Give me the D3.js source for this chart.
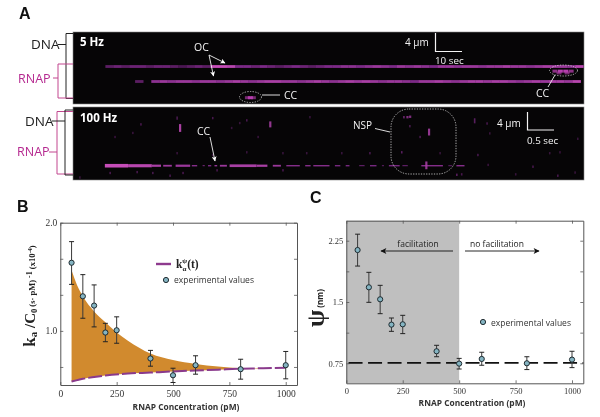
<!DOCTYPE html>
<html><head><meta charset="utf-8">
<style>html,body{margin:0;padding:0;background:#fff}svg{display:block}text{font-family:"Open Sans",sans-serif}</style>
<script src="https://cdn.jsdelivr.net/npm/d3@7/dist/d3.min.js"></script></head>
<body><svg id="c" width="600" height="417"></svg>
<script>
// ---- data: experimental points (shared concentrations, pM)
const concentrations=[50,100,150,200,250,400,500,600,800,1000];
const kaValues=[1.63,1.32,1.234,0.985,1.006,0.745,0.59,0.683,0.646,0.683];
const kaHigh=[1.825,1.52,1.425,1.07,1.13,0.82,0.655,0.77,0.738,0.81];
const kaLow=[1.43,1.117,1.037,0.90,0.886,0.674,0.523,0.60,0.554,0.557];
const psiValues=[2.136,1.68,1.533,1.223,1.227,0.897,0.746,0.803,0.75,0.795];
const psiHigh=[2.33,1.863,1.704,1.304,1.337,0.97,0.81,0.885,0.83,0.897];
const psiLow=[1.94,1.496,1.357,1.141,1.113,0.83,0.68,0.726,0.673,0.697];
// ---- data: curves in panel B
const upperX=[50,75,100,150,200,250,300,350,400,500,600,700,800,900];
const upperY=[1.56,1.42,1.32,1.18,1.08,0.985,0.91,0.845,0.79,0.73,0.695,0.67,0.655,0.648];
const lowerX=[50,75,100,150,200,300,400,500,600,700,800,900,1000];
const lowerY=[0.532,0.545,0.557,0.574,0.588,0.606,0.615,0.625,0.634,0.642,0.65,0.655,0.66];
const psiBaseline=[0.754,0.754];
// ---- data: kymograph tracks, intensities per time bin (3 s bins, 5 Hz panel)
const track1Start=12, track1Pos=7.67;
const track1=[2,3,2,3,3,2,3,3,2,1,2,3,2,9,9,8,4,4,3,4,3,2,3,4,3,2,3,4,4,5,5,4,5,6,5,4,6,5,6,5,4,6,6,5,6,6,5,6,6,7,6,6,5,6,7,6,6,5,8];
const track2Start=23, track2Pos=11;
const track2=[2,0,5,6,5,6,6,5,6,6,5,6,7,6,5,6,7,7,6,6,5,6,7,6,5,6,7,6,7,6,5,6,6,5,4,6,6,7,6,5,6,7,7,6,7,7,6,5,6,7,6,7,7,6,8];
const spots5=[[65.7,14.6,1.6],[64.6,14.6,1],[66.8,14.6,1],[178.5,8.7,1.2],[180.5,8.7,1.6],[182.5,8.7,1.6],[184.5,8.7,1.2],[180,9.1,1],[183,9.1,1]];
// 100 Hz panel: burst segments [start s, end s, width um, strength]
const track3Pos=13.05;
const track3=[[0.59,1.02,0.8,9],[1.02,1.46,0.7,8],[1.46,1.63,0.5,7],[1.67,1.83,0.4,6],[1.9,2.17,0.5,6],[2.2,2.3,0.3,5],[2.4,2.44,0.2,5],[2.5,2.56,0.3,4],[2.62,2.67,0.3,6],[2.72,2.85,0.4,6],[2.9,3.4,0.6,7],[3.4,3.6,0.5,7],[3.7,3.85,0.4,6],[3.95,4.2,0.3,5],[4.3,4.4,0.3,5],[4.45,4.75,0.3,5],[4.85,4.95,0.3,4],[5.05,5.12,0.3,4],[5.3,5.4,0.2,4],[5.5,5.62,0.3,4],[5.72,5.76,0.2,3],[5.85,6.05,0.3,4],[6.1,6.2,0.2,4],[6.45,6.85,0.3,5],[6.95,7.02,0.2,3],[7.1,7.25,0.3,5]];
// 100 Hz panel: isolated spots [time s, position um, height um, strength]
const spots100=[[1.98,4.6,1.6,8],[1.93,2.4,0.6,3],[1.26,3.8,0.4,3],[2.59,2.4,0.4,3],[3.22,2.9,0.4,3],[3.09,3.5,0.4,2],[2.94,4.6,0.4,2],[3.65,3.8,1.2,7],[3.43,6.6,0.4,2],[4.39,2.2,0.4,2],[0.78,6.6,0.4,2],[1.11,5.7,0.4,2],[1.93,10.2,0.4,2],[2.59,10.6,0.4,2],[3.22,10,0.4,2],[3.89,10.2,0.4,2],[4.33,10.2,0.4,2],[0.69,14.6,0.4,3],[1.19,14.4,0.4,3],[1.48,14.6,0.4,3],[1.8,15.2,0.4,3],[2.04,14.6,0.4,3],[2.67,14,0.4,3],[3.89,14,0.4,3],[0.13,15.6,0.4,2],
[6.19,2.2,0.4,6],[6.24,2.1,0.4,6],[6.13,2.2,0.4,5],[6.24,4.2,0.4,3],[6.59,5.5,1.4,7],[6.43,6.6,0.4,3],[6.09,10,0.4,4],[6.54,12.9,1.6,7],[5.5,10.2,0.4,3],[4.98,10.2,0.4,2],[6.8,10.2,0.4,2],[7.44,3,1.0,4],[7.67,3.6,0.4,3],[7.72,5.8,0.4,2],[7.5,10.6,0.4,3],[7.11,15,0.4,4],[7.2,14.9,0.4,3],[8.98,15.2,0.4,3],[8.83,10.2,0.4,2],[9.02,10,0.4,2],[8.52,13.2,0.4,3],[7.69,12.8,0.4,2],[9.3,14.5,0.4,2],[9.35,7,0.4,2],[8.2,14.9,0.4,2]];
// ---- tick labels and text
const xTicks=[0,250,500,750,1000];
const kaTicks=[2,5/3,4/3,1,2/3], kaLabels=[2,1];
const psiTicks=[2.25,1.875,1.5,1.125,0.75], psiLabels=[2.25,1.5,0.75];
const xTitle="RNAP Concentration (pM)";
const legendText="experimental values";

const svg=d3.select("#c");
const PANELINK="#b5288f", BRK="#c2478f";
const defs=svg.append("defs");
defs.append("filter").attr("id","soft").append("feGaussianBlur").attr("stdDeviation",0.6);
defs.append("filter").attr("id","soft2").append("feGaussianBlur").attr("stdDeviation",0.45);
[["wh","#fff"],["bk","#111"]].forEach(([id,c])=>{
  defs.append("marker").attr("id",id).attr("viewBox","0 0 10 10").attr("refX",9).attr("refY",5)
   .attr("markerWidth",id=="wh"?7:9).attr("markerHeight",id=="wh"?5:6).attr("markerUnits","userSpaceOnUse").attr("orient","auto")
   .append("path").attr("d","M0,0L10,5L0,10L2.5,5Z").attr("fill",c);
});
function txt(g,x,y,s,o={}){const t=g.append("text").attr("x",x).attr("y",y).text(s)
  .attr("font-size",o.size||10).attr("fill",o.fill||"#222").attr("font-weight",o.weight||400);
  if(o.anchor)t.attr("text-anchor",o.anchor); if(o.family)t.style("font-family",o.family); return t;}
function ln(g,a,b,c,d,col,w,m){const l=g.append("line").attr("x1",a).attr("y1",b).attr("x2",c).attr("y2",d).attr("stroke",col).attr("stroke-width",w||1);if(m)l.attr("marker-end",`url(#${m})`);return l;}

// ---- Panel A kymographs
const pX=73,pW=511;
const t5=d3.scaleLinear().domain([0,pW/2.7]).range([pX,pX+pW]);
const t100=d3.scaleLinear().domain([0,pW/54]).range([pX,pX+pW]);
const pos1=d3.scaleLinear().domain([0,16]).range([32,104]);
const pos2=d3.scaleLinear().domain([0,16]).range([107,179]);
const inkScale=d3.scaleLinear().domain([0,4,9]).range(["#3a1240","#7c2a86","#c64db8"]);

svg.append("rect").attr("x",pX).attr("y",32).attr("width",pW).attr("height",72).attr("fill","#060506").attr("stroke","#888").attr("stroke-width",0.6);
svg.append("rect").attr("x",pX).attr("y",107).attr("width",pW).attr("height",73).attr("fill","#060506").attr("stroke","#888").attr("stroke-width",0.6);
const gK=svg.append("g").attr("filter","url(#soft)");
[[track1,track1Start,track1Pos],[track2,track2Start,track2Pos]].forEach(([tr,s,p])=>{
  gK.selectAll(null).data(tr).join("rect")
    .attr("x",(d,i)=>t5(s+i*3)).attr("width",t5(3)-t5(0)+0.3)
    .attr("y",pos1(p)-1.4).attr("height",2.8)
    .attr("fill",d=>inkScale(d)).attr("opacity",d=>d>0?1:0);
});
gK.selectAll(null).data(spots5).join("rect")
  .attr("x",d=>t5(d[0])-2.5).attr("y",d=>pos1(d[1])-1.5).attr("width",5).attr("height",3)
  .attr("fill","#b53fae").attr("opacity",d=>Math.min(1,d[2]/1.6));
const gK2=svg.append("g").attr("filter","url(#soft2)");
gK2.selectAll(null).data(track3).join("rect")
  .attr("x",d=>t100(d[0])).attr("width",d=>t100(d[1])-t100(d[0]))
  .attr("y",d=>pos2(track3Pos-d[2]/2)).attr("height",d=>pos2(d[2])-pos2(0))
  .attr("fill",d=>inkScale(d[3]));
gK2.selectAll(null).data(spots100).join("rect")
  .attr("x",d=>t100(d[0])-0.9).attr("width",d=>d[3]>=6?2.2:1.6)
  .attr("y",d=>pos2(d[1]-d[2]/2)).attr("height",d=>pos2(d[2])-pos2(0)+0.6)
  .attr("fill",d=>inkScale(d[3])).attr("opacity",d=>0.45+0.06*d[3]);

const gA=svg.append("g");
txt(gA,19,19,"A",{size:16,weight:700,fill:"#111",family:"Liberation Sans"});
txt(gA,31,49,"DNA",{size:13.5,fill:"#222"});
txt(gA,18,83,"RNAP",{size:12.5,fill:PANELINK});
txt(gA,25,126,"DNA",{size:13.5,fill:"#222"});
txt(gA,17,156,"RNAP",{size:12.5,fill:PANELINK});
const br=(x,y1,y2,x2,sx,sy,c)=>{gA.append("path").attr("d",`M${x2},${y1}H${x}V${y2}H${x2}M${x},${sy}H${sx}`).attr("fill","none").attr("stroke",c).attr("stroke-width",1);};
br(66,33.5,98.5,73,58,44.5,"#222");
br(58,64,98,73,53,78,BRK);
br(57,111.5,174,73,49,152,BRK);
br(65,110,175,73,52,121,"#222");

txt(gA,80,46,"5 Hz",{size:11.5,weight:700,fill:"#fff"});
txt(gA,80,122,"100 Hz",{size:11.5,weight:700,fill:"#fff"});
const W="#f4f4f4";
txt(gA,194,51,"OC",{size:10.5,fill:W});
ln(gA,209,55,225,63,W,0.9,"wh"); ln(gA,209,55,213.5,76,W,0.9,"wh");
const dash="1.3 1.3";
gA.append("ellipse").attr("cx",250.5).attr("cy",97).attr("rx",11).attr("ry",5.5).attr("fill","none").attr("stroke",W).attr("stroke-width",0.7).attr("stroke-dasharray",dash);
ln(gA,262,95,280,95,W,0.9);
txt(gA,284,99,"CC",{size:10.5,fill:W});
gA.append("ellipse").attr("cx",563.5).attr("cy",70.5).attr("rx",14).attr("ry",5.5).attr("fill","none").attr("stroke",W).attr("stroke-width",0.7).attr("stroke-dasharray",dash);
ln(gA,555,75,548,87,W,0.9);
txt(gA,536,97,"CC",{size:10.5,fill:W});
txt(gA,405,46,"4 µm",{size:10,fill:W});
gA.append("path").attr("d","M435.5,33V51.5H462").attr("fill","none").attr("stroke",W).attr("stroke-width",1.2);
txt(gA,435,64,"10 sec",{size:9.8,fill:W});
txt(gA,197,135,"CC",{size:10.5,fill:W});
ln(gA,210,137,215,161,W,0.9,"wh");
txt(gA,353,129,"NSP",{size:10,fill:W});
ln(gA,375,128.5,390,132,W,0.9);
gA.append("rect").attr("x",391).attr("y",109).attr("width",65).attr("height",65).attr("rx",18).attr("fill","none").attr("stroke",W).attr("stroke-width",0.7).attr("stroke-dasharray",dash);
txt(gA,497,127,"4 µm",{size:10,fill:W});
gA.append("path").attr("d","M527.5,112V130H554").attr("fill","none").attr("stroke",W).attr("stroke-width",1.2);
txt(gA,527,144,"0.5 sec",{size:9.8,fill:W});

// ---- shared plot frame
const SERIF="'Liberation Serif',serif";
function frame(g,x,y,yAll,yLab,fmt,fs){
  const [l,r]=x.range(),[b,t]=y.range();
  const sty=a=>{a.selectAll("path").attr("stroke","#555").attr("stroke-width",1);a.selectAll("line").attr("stroke","#555").attr("stroke-width",0.8);
    a.selectAll("text").style("font-family",SERIF).attr("font-size",fs).attr("fill","#333");};
  g.append("g").attr("transform",`translate(0,${b})`).call(d3.axisBottom(x).tickValues(xTicks).tickFormat(d3.format("d")).tickSizeInner(-3).tickSizeOuter(0).tickPadding(5)).call(sty);
  g.append("g").attr("transform",`translate(0,${t})`).call(d3.axisTop(x).tickValues(xTicks).tickSizeInner(-3).tickSizeOuter(0).tickFormat("")).call(sty);
  g.append("g").attr("transform",`translate(${l},0)`).call(d3.axisLeft(y).tickValues(yAll).tickSizeInner(-3).tickSizeOuter(0).tickPadding(3)
     .tickFormat(v=>yLab.some(q=>Math.abs(q-v)<1e-6)?fmt(v):"")).call(sty);
  g.append("g").attr("transform",`translate(${r},0)`).call(d3.axisRight(y).tickValues(yAll).tickSizeInner(-3).tickSizeOuter(0).tickFormat("")).call(sty);
}
function points(g,x,y,vals,hi,lo){
  const G=g.append("g");
  concentrations.forEach((c,i)=>{
    const px=x(c);
    ln(G,px,y(hi[i]),px,y(lo[i]),"#3a3a3a",1);
    ln(G,px-2.5,y(hi[i]),px+2.5,y(hi[i]),"#222",1);
    ln(G,px-2.5,y(lo[i]),px+2.5,y(lo[i]),"#222",1);
  });
  G.selectAll("circle").data(vals).join("circle").attr("cx",(d,i)=>x(concentrations[i])).attr("cy",d=>y(d)).attr("r",2.6)
    .attr("fill","#84b4c2").attr("stroke","#1f2b30").attr("stroke-width",1);
}

// ---- Panel B
const gB=svg.append("g");
txt(gB,17,211.5,"B",{size:16,weight:700,fill:"#111",family:"Liberation Sans"});
const xB=d3.scaleLinear().domain([0,1050]).range([60.3,297]);
const yB=d3.scaleLinear().domain([0.5,2]).range([385,222.7]);
const upperFn=d3.scaleLinear().domain(upperX).range(upperY);
const lowerFn=d3.scaleLinear().domain(lowerX).range(lowerY);
const areaXs=Array.from(new Set([...upperX,...lowerX.filter(v=>v<=900)])).sort(d3.ascending);
gB.append("path").datum(areaXs).attr("fill","#d18a2e").attr("d",d3.area().x(d=>xB(d)).y0(d=>yB(lowerFn(d))).y1(d=>yB(upperFn(d))).curve(d3.curveMonotoneX));
gB.append("path").datum(lowerX.map((v,i)=>[v,lowerY[i]])).attr("fill","none").attr("stroke","#8a3a8c").attr("stroke-width",2).attr("stroke-dasharray","14 3")
  .attr("d",d3.line().x(d=>xB(d[0])).y(d=>yB(d[1])).curve(d3.curveMonotoneX));
frame(gB,xB,yB,kaTicks,kaLabels,d3.format(".1f"),9.5);
points(gB,xB,yB,kaValues,kaHigh,kaLow);
ln(gB,156,264,171,264,"#8e3a8e",2.4);
const kl=txt(gB,176,268,"k",{size:11.5,weight:700,family:SERIF,fill:"#222"});
kl.append("tspan").text("α").attr("font-size",7).attr("dy",3);
kl.append("tspan").text("ψ").attr("font-size",7).attr("dy",-8).attr("dx",-4);
kl.append("tspan").text("(t)").attr("dy",5);
gB.append("circle").attr("cx",166).attr("cy",280).attr("r",2.6).attr("fill","#84b4c2").attr("stroke","#1f2b30");
txt(gB,174,283,legendText,{size:8.5,fill:"#333"});
txt(gB,186,410,xTitle,{size:8.4,weight:700,anchor:"middle",fill:"#333"});
const yl=gB.append("text").attr("transform","translate(35,296) rotate(-90)").attr("text-anchor","middle").attr("fill","#222").attr("font-weight",700).style("font-family",SERIF);
yl.append("tspan").text("k").attr("font-size",17);
yl.append("tspan").text("a").attr("font-size",11).attr("dy",2);
yl.append("tspan").text(" /C").attr("font-size",15).attr("dy",-2);
yl.append("tspan").text("0").attr("font-size",8.5).attr("dy",1.5);
yl.append("tspan").text(" (s· pM)").attr("font-size",8.5).attr("dy",-2);
yl.append("tspan").text(" -1").attr("font-size",8).attr("dy",-3);
yl.append("tspan").text(" (x10").attr("font-size",8.5).attr("dy",3);
yl.append("tspan").text("-4").attr("font-size",6.5).attr("dy",-3);
yl.append("tspan").text(")").attr("font-size",8.5).attr("dy",3);

// ---- Panel C
const gC=svg.append("g");
txt(gC,310,203,"C",{size:16,weight:700,fill:"#111",family:"Liberation Sans"});
const xC=d3.scaleLinear().domain([0,1050]).range([346.3,583.3]);
const yC=d3.scaleLinear().domain([0.505,2.495]).range([383.3,220.7]);
gC.append("rect").attr("x",xC(0)).attr("y",yC.range()[1]).attr("width",xC(500)-xC(0)).attr("height",yC.range()[0]-yC.range()[1]).attr("fill","#bfbfbf");
frame(gC,xC,yC,psiTicks,psiLabels,v=>v==1.5?"1.5":d3.format(".2f")(v),8.5);
gC.append("line").attr("x1",xC(10)).attr("x2",xC(1050)).attr("y1",yC(psiBaseline[0])).attr("y2",yC(psiBaseline[1])).attr("stroke","#111").attr("stroke-width",1.8).attr("stroke-dasharray","14 5.5");
points(gC,xC,yC,psiValues,psiHigh,psiLow);
txt(gC,418,247,"facilitation",{size:8.5,anchor:"middle",fill:"#222"});
txt(gC,497,247,"no facilitation",{size:8.5,anchor:"middle",fill:"#222"});
ln(gC,453,251,381,251,"#111",0.9,"bk");
ln(gC,465,251,539,251,"#111",0.9,"bk");
gC.append("circle").attr("cx",483).attr("cy",322).attr("r",2.6).attr("fill","#84b4c2").attr("stroke","#1f2b30");
txt(gC,491,325.5,legendText,{size:8.5,fill:"#333"});
txt(gC,472,406,xTitle,{size:8.4,weight:700,anchor:"middle",fill:"#333"});
const yc=gC.append("text").attr("transform","translate(324,308) rotate(-90)").attr("text-anchor","middle").attr("fill","#222").style("font-family",SERIF);
yc.append("tspan").text("ψ").attr("font-size",25).attr("font-weight",700);
yc.append("tspan").text(" (nm)").attr("font-size",8).attr("font-weight",700).style("font-family","'Open Sans',sans-serif").attr("dy",-1);
</script></body></html>
